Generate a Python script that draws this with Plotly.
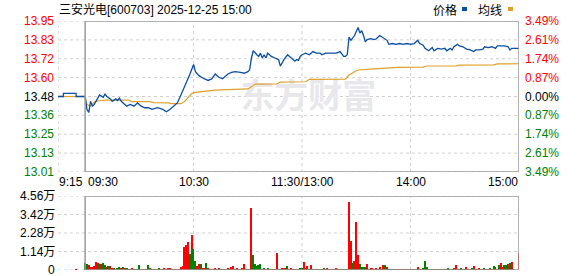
import plotly.graph_objects as go

# ---------------- data ----------------
prev_close = 13.48
max_pct = 3.49
title_text = "三安光电[600703] 2025-12-25 15:00"

price_tick_labels = ["13.95", "13.83", "13.72", "13.60", "13.48", "13.36", "13.25", "13.13", "13.01"]
pct_tick_labels = ["3.49%", "2.61%", "1.74%", "0.87%", "0.00%", "0.87%", "1.74%", "2.61%", "3.49%"]
vol_tick_values = [4.56, 3.42, 2.28, 1.14, 0]
vol_tick_labels = ["4.56万", "3.42万", "2.28万", "1.14万", "0"]
time_tick_minutes = [-15, 0, 60, 120, 180, 240]
time_tick_labels = ["9:15", "09:30", "10:30", "11:30/13:00", "14:00", "15:00"]

# pre-market (9:15-9:30), minutes relative to 9:30
pre_minutes = [-15, -12, -5, 0]
pre_prices = [13.48, 13.50, 13.48, 13.48]
pre_avg_minutes = [-15, 0]
pre_avg_values = [13.48, 13.48]

# main session: minute index 0..240 (241 points)
price_minutes = [0, 1, 2, 3, 4, 5, 7, 8, 10, 11, 12, 14, 15, 17, 18, 19, 20, 22, 23, 25,
                 27, 29, 31, 33, 35, 37, 40, 43, 45, 47, 49, 51, 53, 55, 57, 58, 60, 61, 63, 65,
                 68, 70, 72, 74, 76, 78, 79, 81, 83, 86, 88, 90, 91, 92, 93, 95, 96, 97, 98, 99,
                 100, 101, 103, 105, 107, 108, 110, 112, 114, 116, 117, 118, 119, 120, 122, 124, 126, 128, 130, 131,
                 133, 136, 139, 141, 143, 144, 145, 146, 147, 149, 151, 152, 153, 154, 155, 156, 158, 160, 161, 163,
                 165, 167, 168, 170, 172, 174, 176, 178, 180, 182, 184, 185, 187, 188, 190, 192, 193, 195, 197, 199,
                 200, 202, 203, 204, 206, 207, 209, 211, 213, 215, 216, 218, 220, 221, 223, 225, 227, 228, 230, 232,
                 234, 235, 236, 238, 240]
price_values = [13.48, 13.40, 13.38, 13.45, 13.42, 13.43, 13.47, 13.49, 13.475, 13.495, 13.48, 13.465, 13.45, 13.465, 13.455, 13.47, 13.45, 13.43, 13.42, 13.43,
                13.42, 13.44, 13.42, 13.41, 13.41, 13.40, 13.41, 13.40, 13.385, 13.40, 13.42, 13.44, 13.49, 13.54, 13.60, 13.62, 13.68, 13.635, 13.61, 13.595,
                13.58, 13.59, 13.62, 13.60, 13.59, 13.61, 13.62, 13.63, 13.635, 13.63, 13.625, 13.635, 13.645, 13.72, 13.765, 13.74, 13.73, 13.75, 13.72, 13.74,
                13.72, 13.75, 13.73, 13.72, 13.71, 13.67, 13.71, 13.74, 13.72, 13.70, 13.71, 13.705, 13.73, 13.74, 13.75, 13.74, 13.76, 13.75, 13.75, 13.74,
                13.75, 13.75, 13.75, 13.76, 13.73, 13.73, 13.74, 13.85, 13.83, 13.86, 13.91, 13.875, 13.89, 13.86, 13.82, 13.835, 13.84, 13.835, 13.84, 13.86,
                13.845, 13.83, 13.805, 13.81, 13.805, 13.81, 13.805, 13.81, 13.805, 13.81, 13.83, 13.81, 13.80, 13.78, 13.765, 13.785, 13.765, 13.78, 13.775, 13.78,
                13.765, 13.78, 13.77, 13.79, 13.805, 13.795, 13.79, 13.775, 13.77, 13.76, 13.77, 13.77, 13.775, 13.79, 13.785, 13.79, 13.78, 13.795, 13.795, 13.795,
                13.79, 13.77, 13.78, 13.78, 13.78]

avg_minutes = [0, 1, 3, 5, 8, 12, 24, 26, 36, 38, 46, 48, 53, 55, 57, 59, 61, 63, 67, 72,
               78, 80, 90, 92, 94, 106, 108, 122, 124, 144, 146, 149, 151, 158, 162, 164, 171, 173, 187, 189,
               205, 207, 226, 228, 240]
avg_values = [13.48, 13.43, 13.42, 13.445, 13.455, 13.458, 13.458, 13.448, 13.448, 13.442, 13.44, 13.435, 13.435, 13.448, 13.475, 13.498, 13.506, 13.51, 13.514, 13.52,
              13.522, 13.527, 13.527, 13.54, 13.557, 13.558, 13.57, 13.572, 13.587, 13.588, 13.614, 13.634, 13.645, 13.65, 13.652, 13.656, 13.658, 13.662, 13.663, 13.67,
              13.671, 13.676, 13.677, 13.683, 13.684]

# volume in 万 (one bar per minute, 0..240), direction r = up, g = down
volumes = [
    0.45, 0.39, 0.31, 0.18, 0.16, 0.27, 0.51, 0.45, 0.35, 0.37,
    0.45, 0.29, 0.16, 0.25, 0.25, 0.08, 0.08, 0.06, 0.08, 0.16,
    0.08, 0.18, 0.12, 0.08, 0.06, 0.04, 0.12, 0.05, 0.06, 0.05,
    0.31, 0.05, 0.05, 0.06, 0.05, 0.31, 0.12, 0.06, 0.05, 0.05,
    0.06, 0.12, 0.06, 0.05, 0.08, 0.05, 0.08, 0.12, 0.05, 0.06,
    0.06, 0.05, 0.06, 0.18, 0.25, 1.42, 1.56, 1.72, 0.99, 2.18,
    1.31, 0.55, 0.25, 0.37, 0.37, 0.08, 0.12, 0.43, 0.12, 0.06,
    0.05, 0.06, 0.12, 0.05, 0.08, 0.05, 0.06, 0.05, 0.06, 0.08,
    0.06, 0.16, 0.25, 0.05, 0.08, 0.05, 0.06, 0.12, 0.37, 0.05,
    0.06, 0.05, 3.84, 0.92, 0.37, 0.25, 0.31, 0.37, 0.06, 0.08,
    0.06, 0.12, 0.06, 0.05, 0.06, 0.05, 1.05, 0.05, 0.05, 0.08,
    0.12, 0.12, 0.25, 0.05, 0.12, 0.06, 0.05, 0.06, 0.05, 0.08,
    0.08, 0.49, 0.12, 0.25, 0.05, 0.31, 0.05, 0.05, 0.05, 0.05,
    0.06, 0.05, 0.08, 0.05, 0.12, 0.05, 0.06, 0.06, 0.05, 0.12,
    0.06, 0.05, 0.06, 0.05, 0.06, 0.05, 4.19, 1.79, 0.45, 0.55,
    2.96, 0.92, 0.37, 0.18, 0.18, 0.18, 0.37, 0.06, 0.12, 0.12,
    0.05, 0.12, 0.06, 0.18, 0.05, 0.31, 0.31, 0.18, 0.05, 0.06,
    0.05, 0.06, 0.05, 0.05, 0.06, 0.05, 0.05, 0.06, 0.05, 0.05,
    0.06, 0.05, 0.06, 0.05, 0.18, 0.05, 0.06, 0.12, 0.55, 0.18,
    0.05, 0.06, 0.05, 0.06, 0.05, 0.05, 0.06, 0.05, 0.06, 0.05,
    0.06, 0.12, 0.05, 0.06, 0.12, 0.31, 0.06, 0.06, 0.12, 0.05,
    0.06, 0.18, 0.05, 0.06, 0.12, 0.25, 0.06, 0.06, 0.12, 0.05,
    0.06, 0.12, 0.05, 0.06, 0.12, 0.05, 0.25, 0.18, 0.05, 0.31,
    0.43, 0.20, 0.31, 0.31, 0.35, 0.41, 0.51, 0.05, 0.0, 0.0,
    1.07,
]
vol_dirs = ("ggrrrrrrgr" "ggrgrrgrgg" "rgrgrgrgrg" "grgrggrgrg" "rgrgrgrrgg"
            "rgrrrrrrgr" "ggrrgrrgrg" "rgrgrggrgr" "rrrgrrgrrg" "rgrgggggrg"
            "rgrgrrrggr" "rrgrrrrgrg" "grrrgrgrgr" "grggrrrrgr" "rggggg" "rrgr"
            "rrgggg" "rrrr" "rrrrgrgrgggg" "rrgrgrgrgrgg" "rgrgggrgrg" "rgrgrrgggg"
            "rrgr" "grgrgrgrgr" "rrgg" "rrgrgg" "rgrrgg" "rgrr" "grrg" "r" "grrgrrgg" "grrrr" "ggrrrr" "r")

# ---------------- layout helpers ----------------
W, H = 578, 276
XL, XR = 58, 519          # pixel extent of time axis (9:15 .. 15:00)
P_TOP, P_BOT = 21, 172    # price panel
V_TOP, V_BOT = 196, 270   # volume panel

pmin = prev_close * (1 - max_pct / 100)
pmax = prev_close * (1 + max_pct / 100)
grid_levels = [prev_close * (1 + max_pct * k / 4 / 100) for k in range(4, -5, -1)]

BLUE = "#0b4ea2"
ORANGE = "#dfa02a"
RED = "#ff0000"
GREEN = "#008000"
GRID = "#d0d0d0"
BORDER = "#9a9a9a"
FONT = "Liberation Sans, Arial, Noto Sans CJK SC, sans-serif"
CJK = "Noto Sans CJK SC, Liberation Sans, sans-serif"

fig = go.Figure()

fig.add_trace(go.Scatter(x=pre_avg_minutes, y=pre_avg_values, mode="lines",
                         line=dict(color=ORANGE, width=1.2), xaxis="x", yaxis="y", hoverinfo="skip"))
fig.add_trace(go.Scatter(x=pre_minutes, y=pre_prices, mode="lines", line_shape="hv",
                         line=dict(color=BLUE, width=1.3), xaxis="x", yaxis="y", hoverinfo="skip"))
fig.add_trace(go.Scatter(x=avg_minutes, y=avg_values, mode="lines",
                         line=dict(color=ORANGE, width=1.2), xaxis="x", yaxis="y"))
fig.add_trace(go.Scatter(x=price_minutes, y=price_values, mode="lines",
                         line=dict(color=BLUE, width=1.3), xaxis="x", yaxis="y"))

vol_minutes = list(range(len(volumes)))
vol_colors = [RED if d == "r" else GREEN for d in vol_dirs[:len(volumes)]]
vol_colors += [RED] * (len(volumes) - len(vol_colors))
fig.add_trace(go.Bar(x=vol_minutes + [-5], y=volumes + [0.06], marker=dict(color=vol_colors + [RED], line=dict(width=0)),
                     width=0.75, xaxis="x2", yaxis="y2"))

shapes = []
# price panel grid
for lv in grid_levels:
    shapes.append(dict(type="line", xref="x", yref="y", x0=-15, x1=240, y0=lv, y1=lv,
                       line=dict(color=GRID, width=1, dash="3px,3px"), layer="below"))
for m in [-15, 60, 120, 180]:
    shapes.append(dict(type="line", xref="x", yref="y", x0=m, x1=m, y0=pmin, y1=pmax,
                       line=dict(color=GRID, width=1, dash="3px,3px"), layer="below"))
shapes.append(dict(type="rect", xref="x", yref="y", x0=0, x1=240, y0=pmin, y1=pmax,
                   line=dict(color=BORDER, width=1.5), layer="above"))
# volume panel grid
for v in vol_tick_values:
    shapes.append(dict(type="line", xref="x2", yref="y2", x0=-15, x1=240, y0=v, y1=v,
                       line=dict(color=GRID, width=1, dash="3px,3px"), layer="below"))
for m in [60, 120, 180]:
    shapes.append(dict(type="line", xref="x2", yref="y2", x0=m, x1=m, y0=0, y1=4.56,
                       line=dict(color=GRID, width=1, dash="3px,3px"), layer="below"))
shapes.append(dict(type="rect", xref="x2", yref="y2", x0=0, x1=240, y0=0, y1=4.56,
                   line=dict(color=BORDER, width=1.5), layer="above"))
# watermark
shapes.append(dict(type="rect", xref="x", yref="y", x0=84, x1=163, y0=13.38, y1=13.56,
                   line=dict(width=0), fillcolor="rgba(0,0,0,0)", layer="below",
                   label=dict(text="东方财富", font=dict(size=34, color="#e8e8ec", family=CJK, weight="bold"),
                              textposition="middle center")))
# legend markers (pixel -> paper)
def px(xp):
    return xp / W
def py(yp):
    return 1 - yp / H
shapes.append(dict(type="rect", xref="paper", yref="paper", x0=px(462), x1=px(467), y0=py(11), y1=py(7),
                   fillcolor=BLUE, line=dict(width=0)))
shapes.append(dict(type="rect", xref="paper", yref="paper", x0=px(508), x1=px(513), y0=py(11), y1=py(7),
                   fillcolor=ORANGE, line=dict(width=0)))

ann = []
for i, (lv, lab) in enumerate(zip(grid_levels, price_tick_labels)):
    col = RED if i < 4 else ("#000000" if i == 4 else GREEN)
    ann.append(dict(x=-15, y=lv, xref="x", yref="y", text=lab, showarrow=False, xanchor="right",
                    yanchor="middle", xshift=-2, font=dict(size=12, color=col, family=FONT)))
for i, (lv, lab) in enumerate(zip(grid_levels, pct_tick_labels)):
    col = RED if i < 4 else ("#000000" if i == 4 else GREEN)
    ann.append(dict(x=240, y=lv, xref="x", yref="y", text=lab, showarrow=False, xanchor="left",
                    yanchor="middle", xshift=4, font=dict(size=12, color=col, family=FONT)))
for v, lab in zip(vol_tick_values, vol_tick_labels):
    ann.append(dict(x=-15, y=v, xref="x2", yref="y2", text=lab, showarrow=False, xanchor="right",
                    yanchor="middle", xshift=-1, font=dict(size=12, color="#000000", family=FONT)))
anchors = ["left", "left", "center", "center", "center", "right"]
shifts = [-1, 1, 0, 0, 0, 1]
for m, lab, a, s in zip(time_tick_minutes, time_tick_labels, anchors, shifts):
    ann.append(dict(x=m, y=py(182), xref="x", yref="paper", text=lab, showarrow=False, xanchor=a,
                    yanchor="middle", xshift=s, font=dict(size=12, color="#000000", family=FONT)))
ann.append(dict(x=px(57), y=py(9), xref="paper", yref="paper", text=title_text, showarrow=False,
                xanchor="left", yanchor="middle", font=dict(size=12, color="#000000", family=FONT)))
ann.append(dict(x=px(431), y=py(9), xref="paper", yref="paper", text="价格", showarrow=False,
                xanchor="left", yanchor="middle", font=dict(size=12, color="#000000", family=CJK)))
ann.append(dict(x=px(476), y=py(9), xref="paper", yref="paper", text="均线", showarrow=False,
                xanchor="left", yanchor="middle", font=dict(size=12, color="#000000", family=CJK)))

xdom = [XL / W, XR / W]
axis_off = dict(visible=False, showgrid=False, zeroline=False, fixedrange=True)
fig.update_layout(
    width=W, height=H, margin=dict(l=0, r=0, t=0, b=0),
    paper_bgcolor="white", plot_bgcolor="white", showlegend=False,
    xaxis=dict(domain=xdom, range=[-15, 240], **axis_off),
    yaxis=dict(domain=[1 - P_BOT / H, 1 - P_TOP / H], range=[pmin, pmax], **axis_off),
    xaxis2=dict(domain=xdom, range=[-15, 240], anchor="y2", **axis_off),
    yaxis2=dict(domain=[1 - V_BOT / H, 1 - V_TOP / H], range=[0, 4.56], anchor="x2", **axis_off),
    shapes=shapes, annotations=ann, bargap=0,
)

fig.write_html("out.html")
